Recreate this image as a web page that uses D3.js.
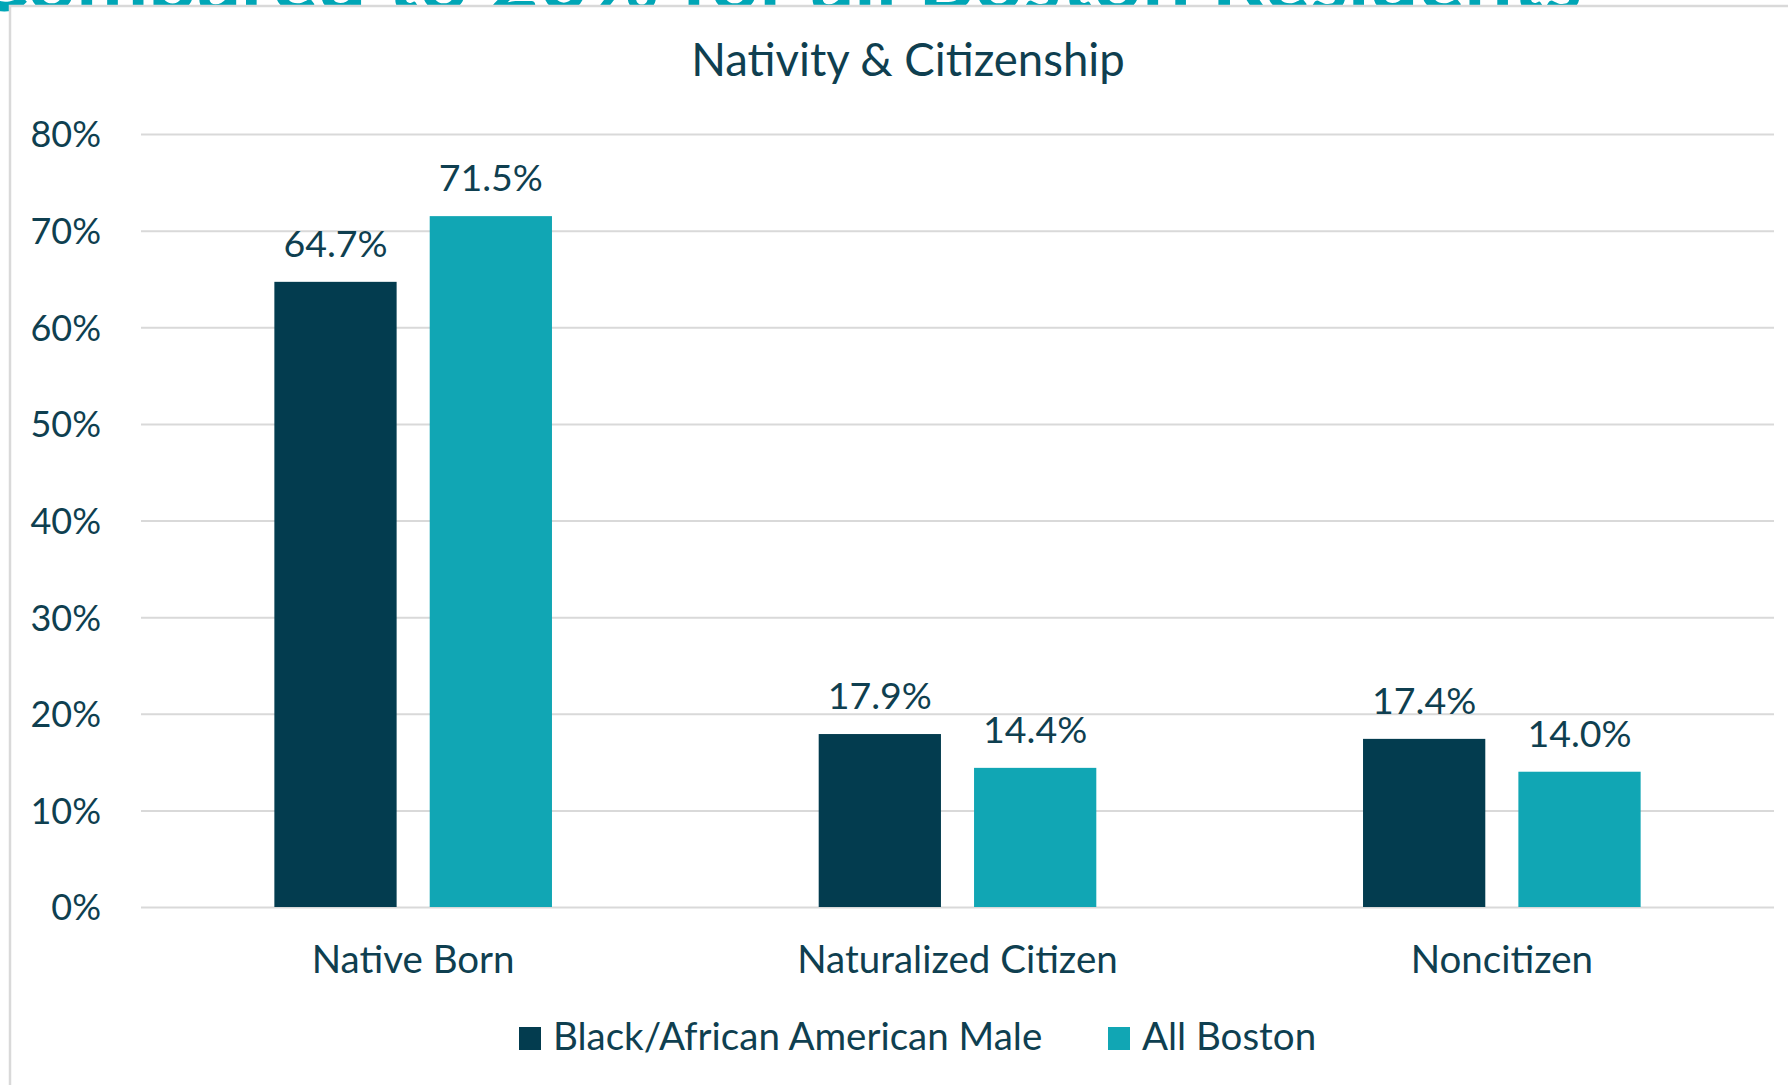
<!DOCTYPE html>
<html>
<head>
<meta charset="utf-8">
<script src="https://cdnjs.cloudflare.com/ajax/libs/d3/7.8.5/d3.min.js"></script>
<style>
  body { margin: 0; background: #fff; }
  svg { display: block; }
  text { font-family: Lato, "Open Sans", sans-serif; }
</style>
</head>
<body>
<div id="chart"></div>
<script>
var categories = ['Native Born', 'Naturalized Citizen', 'Noncitizen'];
var seriesNames = ['Black/African American Male', 'All Boston'];
var blackMale = [64.7, 17.9, 17.4];
var allBoston = [71.5, 14.4, 14.0];
var yTicks = [0, 10, 20, 30, 40, 50, 60, 70, 80];
var chartTitle = 'Nativity & Citizenship';
var headline = 'Compared to 20% for all Boston Residents';

var colors = ['#033c4f', '#11a6b4'];
var textColor = '#0f3f50';

var width = 1788, height = 1085;
var margin = {left: 141, right: 14, top: 134, bottom: 178};

var svg = d3.select('#chart')
  .append('svg')
  .attr('width', width)
  .attr('height', height);

// piece of the page headline peeking out behind the chart box
svg.append('text')
  .attr('x', 1582)
  .attr('y', 11)
  .attr('text-anchor', 'end')
  .style('font-size', '86px')
  .style('font-weight', 700)
  .attr('fill', '#00a6b6')
  .text(headline);

// chart box
svg.append('rect')
  .attr('x', 10)
  .attr('y', 6)
  .attr('width', width + 10)
  .attr('height', height + 10)
  .attr('fill', '#fff')
  .attr('stroke', '#d9d9d9')
  .attr('stroke-width', 2.5);

svg.append('text')
  .attr('x', 908)
  .attr('y', 76)
  .attr('text-anchor', 'middle')
  .style('font-size', '45.5px')
  .attr('fill', textColor)
  .text(chartTitle);

var y = d3.scaleLinear()
  .domain([0, 80])
  .range([height - margin.bottom, margin.top]);

var x0 = d3.scaleBand()
  .domain(categories)
  .range([margin.left, width - margin.right])
  .paddingInner(0.49)
  .paddingOuter(0.245);

var x1 = d3.scaleBand()
  .domain(seriesNames)
  .range([0, x0.bandwidth()])
  .paddingInner(0.213);

// gridlines + y labels
var yAxis = d3.axisLeft(y)
  .tickValues(yTicks)
  .tickSize(-(width - margin.right - margin.left))
  .tickFormat(function(d) { return d + '%'; })
  .tickPadding(40);

var gy = svg.append('g')
  .attr('transform', `translate(${margin.left},0)`)
  .call(yAxis);
gy.select('.domain').remove();
gy.selectAll('.tick line')
  .attr('stroke', '#d9d9d9')
  .attr('stroke-width', 2);
gy.selectAll('.tick text')
  .attr('fill', textColor)
  .attr('dy', '0.36em')
  .style('font-size', '36px')
  .style('font-family', 'Lato, sans-serif');

var rows = categories.map(function(c, i) {
  return {cat: c, values: [
    {name: seriesNames[0], v: blackMale[i], color: colors[0]},
    {name: seriesNames[1], v: allBoston[i], color: colors[1]}
  ]};
});

var groups = svg.selectAll('.group')
  .data(rows)
  .enter()
  .append('g')
  .attr('class', 'group')
  .attr('transform', function(d) { return `translate(${x0(d.cat)},0)`; });

groups.selectAll('rect')
  .data(function(d) { return d.values; })
  .enter()
  .append('rect')
  .attr('x', function(d) { return x1(d.name); })
  .attr('y', function(d) { return y(d.v); })
  .attr('width', x1.bandwidth())
  .attr('height', function(d) { return y(0) - y(d.v); })
  .attr('fill', function(d) { return d.color; });

groups.selectAll('.val')
  .data(function(d) { return d.values; })
  .enter()
  .append('text')
  .attr('class', 'val')
  .attr('x', function(d) { return x1(d.name) + x1.bandwidth() / 2; })
  .attr('y', function(d) { return y(d.v) - 25; })
  .attr('text-anchor', 'middle')
  .attr('fill', textColor)
  .style('font-size', '37.5px')
  .text(function(d) { return d.v.toFixed(1) + '%'; });

// category labels
var xAxis = d3.axisBottom(x0).tickSize(0).tickPadding(0);
var gx = svg.append('g')
  .attr('transform', `translate(0,${y(0)})`)
  .call(xAxis);
gx.select('.domain').remove();
gx.selectAll('.tick text')
  .attr('y', 66)
  .attr('dy', null)
  .attr('fill', textColor)
  .style('font-size', '38.5px')
  .style('font-family', 'Lato, sans-serif');

// legend
var legendX = [519, 1108];
var legend = svg.selectAll('.legend')
  .data(seriesNames)
  .enter()
  .append('g')
  .attr('class', 'legend')
  .attr('transform', function(d, i) { return `translate(${legendX[i]},1050)`; });

legend.append('rect')
  .attr('x', 0)
  .attr('y', -23)
  .attr('width', 22)
  .attr('height', 23)
  .attr('fill', function(d, i) { return colors[i]; });

legend.append('text')
  .attr('x', 34)
  .attr('y', 0)
  .attr('fill', textColor)
  .style('font-size', '38.5px')
  .text(function(d) { return d; });
</script>
</body>
</html>
